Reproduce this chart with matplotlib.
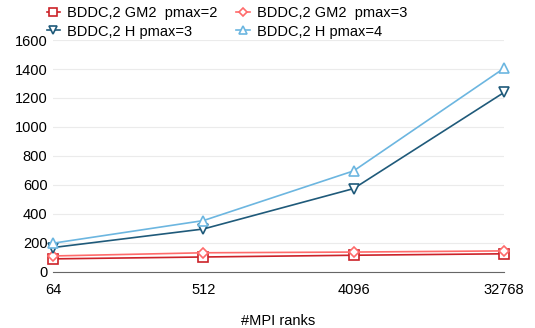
import matplotlib
matplotlib.use("Agg")
import matplotlib.pyplot as plt

plt.rcParams['font.family'] = ['Liberation Sans', 'DejaVu Sans']

ranks = [64, 512, 4096, 32768]
rank_labels = ['64', '512', '4096', '32768']

gm2_p2 = [90, 103, 115, 125]
gm2_p3 = [110, 132, 137, 145]
h_p3 = [168, 296, 575, 1238]
h_p4 = [198, 354, 697, 1405]

series = [
    ('BDDC,2 GM2  pmax=2', gm2_p2, '#cc2229', 's'),
    ('BDDC,2 GM2  pmax=3', gm2_p3, '#ff6b6b', 'D'),
    ('BDDC,2 H pmax=3', h_p3, '#1f5a7a', 'v'),
    ('BDDC,2 H pmax=4', h_p4, '#6cb6e0', '^'),
]

fig = plt.figure(figsize=(5.35, 3.28), dpi=100)
ax = fig.add_axes([0.099, 0.171, 0.843, 0.707])

lines = {}
for label, vals, color, mk in series:
    ms = 5.5 if mk == 'D' else 6.5
    ln, = ax.plot(ranks, vals, color=color, lw=1.2, marker=mk, ms=ms,
                  mfc='white', mec=color, mew=1.2, label=label, clip_on=False, zorder=3)
    lines[label] = ln

ax.set_xscale('log', base=2)
ax.set_xlim(64, 32768)
ax.set_xticks(ranks)
ax.set_xticklabels(rank_labels)
ax.minorticks_off()
ax.set_ylim(0, 1600)
ax.set_yticks(range(0, 1601, 200))
ax.grid(axis='y', color='#ebebeb', lw=0.8)
ax.set_axisbelow(True)
for s in ['top', 'right', 'left']:
    ax.spines[s].set_visible(False)
ax.spines['bottom'].set_color('#666666')
ax.spines['bottom'].set_linewidth(0.8)
ax.tick_params(length=0, labelsize=10.5, pad=8)
ax.tick_params(axis='y', pad=4)
ax.set_xlabel('#MPI ranks', fontsize=10.5, labelpad=12)

# row-wise legend order
order = [series[0][0], series[2][0], series[1][0], series[3][0]]
leg = ax.legend([lines[k] for k in order], order, ncol=2, loc='lower left',
                bbox_to_anchor=(-0.03, 0.975), frameon=False,
                fontsize=10.5, handlelength=0.9, handletextpad=0.5, columnspacing=1.3,
                labelspacing=0.3, borderpad=0, markerscale=0.8)

fig.savefig('out.png', dpi=100)
